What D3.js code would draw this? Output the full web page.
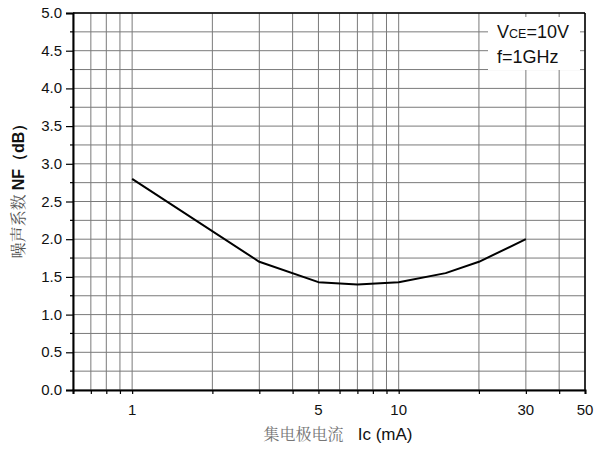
<!DOCTYPE html>
<html>
<head>
<meta charset="utf-8">
<script src="https://cdn.jsdelivr.net/npm/d3@7"></script>
<style>
    body { margin: 0; background: #fff; }
    svg { display: block; font-family: "Liberation Sans", Arial, sans-serif; }
</style>
</head>
<body>
<div id="chart"></div>
<script>
// Data
const currentMA = [1, 3, 5, 7, 10, 15, 20, 30];
const noiseFigure = [2.8, 1.7, 1.43, 1.4, 1.43, 1.55, 1.7, 2.0];
const xLabelTicks = [1, 5, 10, 30, 50];
const xGridTicks = [0.6, 0.7, 0.8, 0.9, 1, 2, 3, 4, 5, 6, 7, 8, 9, 10, 20, 30, 40, 50];
const yMajorTicks = [0, 0.5, 1, 1.5, 2, 2.5, 3, 3.5, 4, 4.5, 5];
const yMinorTicks = [0.25, 0.75, 1.25, 1.75, 2.25, 2.75, 3.25, 3.75, 4.25, 4.75];

const width = 595, height = 452;
const margin = { top: 13, right: 10, bottom: 62, left: 73 };
const innerWidth = 585 - margin.left;
const innerHeight = 390 - margin.top;

const svg = d3.select("#chart")
    .append("svg")
    .attr("width", width)
    .attr("height", height);

const innerChart = svg.append("g")
    .attr("transform", `translate(${margin.left}, ${margin.top})`);

const xScale = d3.scaleLog().domain([0.6, 50]).range([0, innerWidth]);
const yScale = d3.scaleLinear().domain([0, 5]).range([innerHeight, 0]);

// Grid
innerChart.append("g")
    .selectAll("line")
    .data(xGridTicks)
    .join("line")
    .attr("x1", d => xScale(d)).attr("x2", d => xScale(d))
    .attr("y1", 0).attr("y2", innerHeight)
    .attr("stroke", "#7a7a7a")
    .attr("stroke-width", 1);

innerChart.append("g")
    .selectAll("line")
    .data(yMajorTicks.concat(yMinorTicks))
    .join("line")
    .attr("x1", 0).attr("x2", innerWidth)
    .attr("y1", d => yScale(d)).attr("y2", d => yScale(d))
    .attr("stroke", "#7a7a7a")
    .attr("stroke-width", 1);

// White box behind the annotation
innerChart.append("rect")
    .attr("x", 488 - margin.left)
    .attr("y", 17 - margin.top)
    .attr("width", 92)
    .attr("height", 53)
    .attr("fill", "#fff");

// Curve
const line = d3.line()
    .x(d => xScale(d[0]))
    .y(d => yScale(d[1]));

innerChart.append("path")
    .datum(d3.zip(currentMA, noiseFigure))
    .attr("d", line)
    .attr("fill", "none")
    .attr("stroke", "#000")
    .attr("stroke-width", 2)
    .attr("stroke-linejoin", "round");

// Frame: top and right
innerChart.append("line")
    .attr("x1", 0).attr("x2", innerWidth).attr("y1", 0).attr("y2", 0)
    .attr("stroke", "#000").attr("stroke-width", 1.5);
innerChart.append("line")
    .attr("x1", innerWidth).attr("x2", innerWidth).attr("y1", 0).attr("y2", innerHeight)
    .attr("stroke", "#000").attr("stroke-width", 1.5);

// Bottom axis: ticks from d3, labels drawn separately
const bottomAxis = d3.axisBottom(xScale)
    .tickValues(xGridTicks)
    .tickSize(4)
    .tickFormat("");
const xAxisG = innerChart.append("g")
    .attr("transform", `translate(0, ${innerHeight})`)
    .call(bottomAxis);
xAxisG.select(".domain").attr("stroke-width", 2);
xAxisG.selectAll(".tick line").attr("stroke-width", 1.2);
xAxisG.selectAll(".tick text").remove();

innerChart.append("g")
    .selectAll("text")
    .data(xLabelTicks)
    .join("text")
    .attr("x", d => xScale(d))
    .attr("y", innerHeight + 25)
    .attr("text-anchor", "middle")
    .attr("font-size", 15)
    .attr("fill", "#111")
    .text(d => d3.format("d")(d));

// Left axis (major + minor)
const leftAxis = d3.axisLeft(yScale)
    .tickValues(yMajorTicks)
    .tickSize(7)
    .tickFormat("");
const yAxisG = innerChart.append("g").call(leftAxis);
yAxisG.select(".domain").attr("stroke-width", 2);
yAxisG.selectAll(".tick line").attr("stroke-width", 1.2);
yAxisG.selectAll(".tick text").remove();

innerChart.append("g")
    .selectAll("text")
    .data(yMajorTicks)
    .join("text")
    .attr("x", -11)
    .attr("y", d => yScale(d) + 5)
    .attr("text-anchor", "end")
    .attr("font-size", 15)
    .attr("fill", "#111")
    .text(d => d3.format(".1f")(d));

innerChart.append("g")
    .selectAll("line")
    .data(yMinorTicks)
    .join("line")
    .attr("x1", -3).attr("x2", 0)
    .attr("y1", d => yScale(d)).attr("y2", d => yScale(d))
    .attr("stroke", "#000").attr("stroke-width", 1.2);

// Annotation
const note = svg.append("text")
    .attr("x", 497)
    .attr("y", 38)
    .attr("font-size", 18)
    .attr("fill", "#111");
note.append("tspan").text("V");
note.append("tspan").text("CE").attr("font-size", 12.5);
note.append("tspan").text("=10V");

svg.append("text")
    .attr("x", 497)
    .attr("y", 63)
    .attr("font-size", 18)
    .attr("fill", "#111")
    .text("f=1GHz");

// Axis labels
const xLabel = svg.append("text")
    .attr("x", 338)
    .attr("y", 440)
    .attr("text-anchor", "middle")
    .attr("font-size", 16);
xLabel.append("tspan")
    .text("集电极电流")
    .attr("font-family", "'Noto Serif CJK SC', 'Noto Sans CJK SC', serif")
    .attr("fill", "#777");
xLabel.append("tspan")
    .text("\u00a0\u00a0 Ic (mA)")
    .attr("font-size", 17)
    .attr("fill", "#111");

const yLabel = svg.append("text")
    .attr("transform", "translate(24, 187) rotate(-90)")
    .attr("text-anchor", "middle")
    .attr("font-size", 16);
yLabel.append("tspan")
    .text("噪声系数 ")
    .attr("font-family", "'Noto Serif CJK SC', 'Noto Sans CJK SC', serif")
    .attr("fill", "#555");
yLabel.append("tspan")
    .text("NF")
    .attr("font-weight", "bold")
    .attr("fill", "#111");
yLabel.append("tspan")
    .text("（dB）")
    .attr("font-weight", "bold")
    .attr("fill", "#111");
</script>
</body>
</html>
